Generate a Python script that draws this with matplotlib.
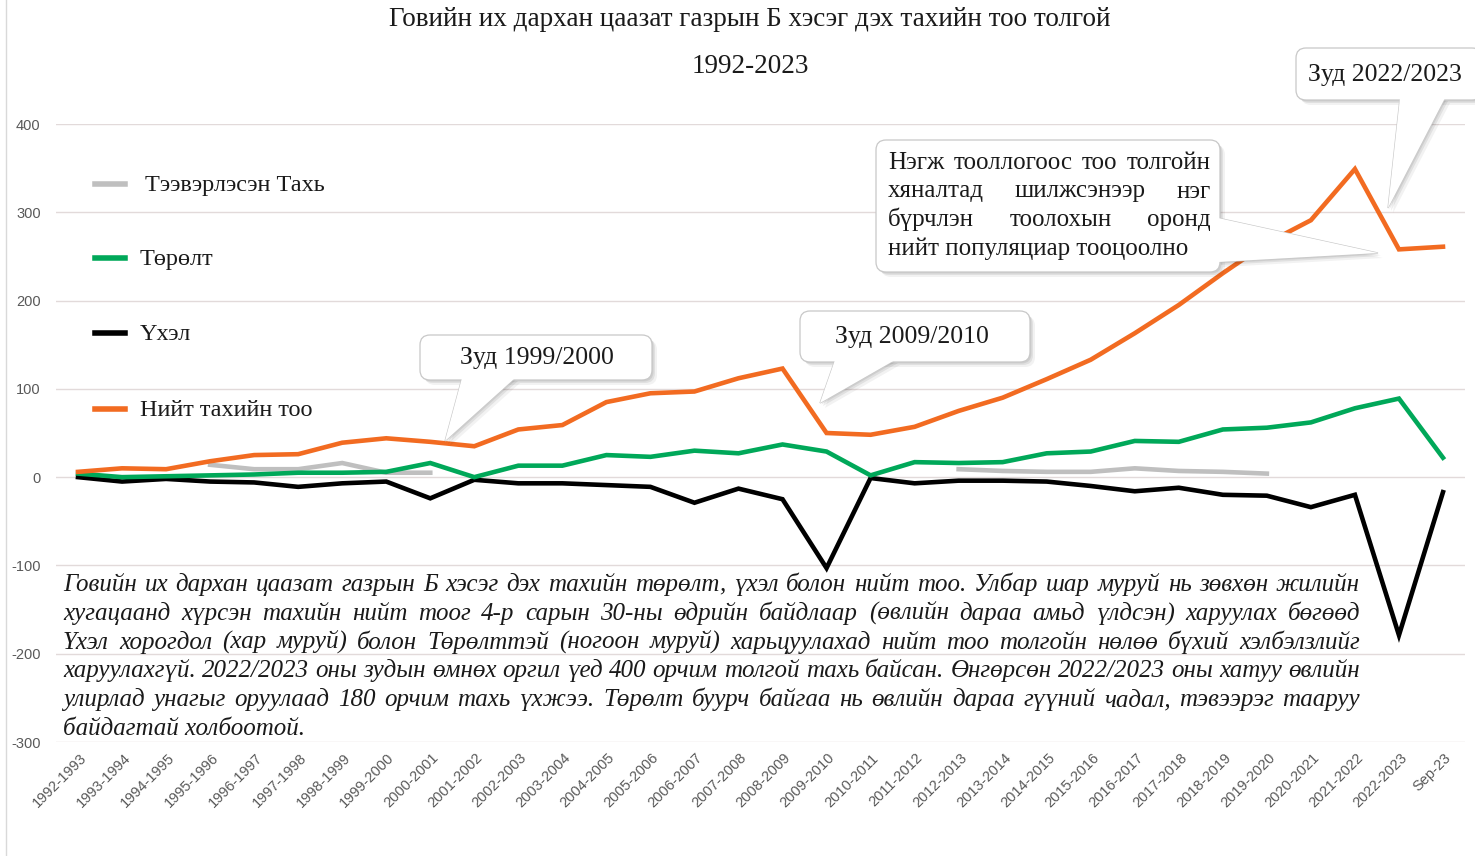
import numpy as np
import matplotlib
matplotlib.use("Agg")
import matplotlib.pyplot as plt
from matplotlib.patches import FancyBboxPatch, Polygon
from matplotlib.lines import Line2D
from matplotlib.transforms import IdentityTransform, ScaledTranslation

plt.rcParams['axes.unicode_minus'] = False

# ---------------- data ----------------
categories = ['1992-1993', '1993-1994', '1994-1995', '1995-1996', '1996-1997', '1997-1998',
              '1998-1999', '1999-2000', '2000-2001', '2001-2002', '2002-2003', '2003-2004',
              '2004-2005', '2005-2006', '2006-2007', '2007-2008', '2008-2009', '2009-2010',
              '2010-2011', '2011-2012', '2012-2013', '2013-2014', '2014-2015', '2015-2016',
              '2016-2017', '2017-2018', '2018-2019', '2019-2020', '2020-2021', '2021-2022',
              '2022-2023', 'Sep-23']
nan = np.nan
transported = [nan, nan, nan, 14, 9, 9, 16, 5, 5, nan, nan, nan, nan, nan, nan, nan, nan, nan,
               nan, nan, 9, 7, 6, 6, 10, 7, 6, 4, nan, nan, nan, nan]
births = [4, 0, 1, 2, 3, 5, 5, 6, 16, 0, 13, 13, 25, 23, 30, 27, 37, 29, 2, 17, 16, 17, 27, 29,
          41, 40, 54, 56, 62, 78, 89, 22]
deaths = [0, -5, -2, -5, -6, -11, -7, -5, -24, -3, -7, -7, -9, -11, -29, -13, -25, -103, -1, -7,
          -4, -4, -5, -10, -16, -12, -20, -21, -34, -20, -179, -17]
total = [6, 10, 9, 18, 25, 26, 39, 44, 40, 35, 54, 59, 85, 95, 97, 112, 123, 50, 48, 57, 75, 90,
         111, 133, 163, 195, 231, 265, 291, 349, 258, 261]

series_labels = ['Тээвэрлэсэн Тахь', 'Төрөлт', 'Үхэл', 'Нийт тахийн тоо']
series_colors = ['#BFBFBF', '#00A859', '#000000', '#F26B21']

title1 = 'Говийн их дархан цаазат газрын Б хэсэг дэх тахийн тоо толгой'
title2 = '1992-2023'
caption_lines = [
    'Говийн их дархан цаазат газрын Б хэсэг дэх тахийн төрөлт, үхэл болон нийт тоо. Улбар шар муруй нь зөвхөн жилийн',
    'хугацаанд хүрсэн тахийн нийт тоог 4-р сарын 30-ны өдрийн байдлаар (өвлийн дараа амьд үлдсэн) харуулах бөгөөд',
    'Үхэл хорогдол (хар муруй) болон Төрөлттэй (ногоон муруй) харьцуулахад нийт тоо толгойн нөлөө бүхий хэлбэлзлийг',
    'харуулахгүй. 2022/2023 оны зудын өмнөх оргил үед 400 орчим толгой тахь байсан. Өнгөрсөн 2022/2023 оны хатуу өвлийн',
    'улирлад унагыг оруулаад 180 орчим тахь үхжээ. Төрөлт буурч байгаа нь өвлийн дараа гүүний чадал, тэвээрэг тааруу',
    'байдагтай холбоотой.',
]
note_lines = ['Нэгж тооллогоос тоо толгойн', 'хяналтад шилжсэнээр нэг',
              'бүрчлэн тоолохын оронд', 'нийт популяциар тооцоолно']

# ---------------- figure ----------------
W, H = 1475, 856
fig = plt.figure(figsize=(W / 100, H / 100), dpi=100)
fig.patch.set_facecolor('white')
ax = fig.add_axes([56 / W, 1 - 742 / H, (1465 - 56) / W, (742 - 124) / H])

x = np.arange(len(categories))
data = [transported, births, deaths, total]
for vals, col, lab, z in zip(data, series_colors, series_labels, [2, 4, 3, 5]):
    ax.plot(x, vals, color=col, lw=3.3, label=lab, zorder=z, solid_joinstyle='miter')

ax.set_xlim(-0.5, len(categories) - 0.5)
ax.set_ylim(-300, 400)
ax.set_yticks(range(-300, 401, 100))
ax.grid(axis='y', color='#E2DADA', lw=1.0)
ax.set_axisbelow(True)
for s in ax.spines.values():
    s.set_visible(False)
ax.tick_params(length=0)
ax.tick_params(axis='y', pad=11, labelsize=10.5, labelcolor='#595959')
ax.set_xticks(x)
ax.set_xticklabels(categories, rotation=45, ha='right', rotation_mode='anchor',
                   fontsize=10.5, color='#595959', family='Liberation Sans')
for lbl in ax.get_yticklabels():
    lbl.set_family('Liberation Sans')
off = ScaledTranslation(1 / 100, -4 / 100, fig.dpi_scale_trans)
for lbl in ax.get_xticklabels():
    lbl.set_transform(lbl.get_transform() + off)

# left frame line
fig.add_artist(Line2D([6, 6], [0, H], color='#D9D9D9', lw=1, transform=IdentityTransform()))

ID = IdentityTransform()
SERIF = 'Liberation Serif'


def D(px, py):
    return (px, H - py)


def ftext(px, py, s, **kw):
    return fig.text(px, H - py, s, transform=ID, **kw)


# titles
ftext(750, 26, title1, ha='center', va='baseline', fontsize=19.5, family=SERIF, color='#1a1a1a')
ftext(750, 73, title2, ha='center', va='baseline', fontsize=19.5, family=SERIF, color='#1a1a1a')

# legend (custom positioned)
leg_y = [184, 258, 333, 409]
leg_tx = [145, 140, 140, 140]
for ly, tx, col, lab in zip(leg_y, leg_tx, series_colors, series_labels):
    fig.add_artist(Line2D([95, 125], [H - ly, H - ly], color=col, lw=4, transform=ID, zorder=6))
    ftext(tx, ly + 7, lab, ha='left', va='baseline', fontsize=17.5, family=SERIF, color='#1a1a1a', zorder=6)


def callout(box, wedge, z=6):
    x0, y0, x1, y1 = box
    wpts = [D(*p) for p in wedge]
    # soft shadow
    for k, a in [(5, 0.05), (3, 0.07), (1.5, 0.08)]:
        fig.add_artist(FancyBboxPatch((x0 + k, H - y1 - k), x1 - x0, y1 - y0,
                                      boxstyle='round,pad=0,rounding_size=10', fc='black',
                                      alpha=a, ec='none', transform=ID, zorder=z))
        fig.add_artist(Polygon([(p + k, q - k) for p, q in wpts], closed=True, fc='black',
                               alpha=a, ec='none', transform=ID, zorder=z))
    fig.add_artist(Polygon(wpts, closed=True, fc='white', ec='#C8C8C8', lw=0.9,
                           transform=ID, zorder=z + 0.1))
    fig.add_artist(FancyBboxPatch((x0, H - y1), x1 - x0, y1 - y0,
                                  boxstyle='round,pad=0,rounding_size=10', fc='white',
                                  ec='#C8C8C8', lw=0.9, transform=ID, zorder=z + 0.2))
    fig.add_artist(Polygon(wpts, closed=True, fc='white', ec='none',
                           transform=ID, zorder=z + 0.3))


callout((420, 335, 652, 380), [(462, 378), (515, 378), (445, 441)])
ftext(460, 364, 'Зуд 1999/2000', ha='left', va='baseline', fontsize=18.5, family=SERIF,
      color='#1a1a1a', zorder=7)
callout((800, 311, 1030, 362), [(835, 360), (895, 360), (820, 403)])
ftext(835, 343, 'Зуд 2009/2010', ha='left', va='baseline', fontsize=18.5, family=SERIF,
      color='#1a1a1a', zorder=7)
callout((1296, 48, 1482, 100), [(1400, 98), (1445, 98), (1388, 208)])
ftext(1308, 81, 'Зуд 2022/2023', ha='left', va='baseline', fontsize=18.5, family=SERIF,
      color='#1a1a1a', zorder=7)
callout((876, 140, 1220, 272), [(1218, 218), (1218, 262), (1378, 253)])

renderer = fig.canvas.get_renderer()


def justify(lines, x0, x1, base0, dy, last_left=True, **kw):
    for k, line in enumerate(lines):
        yb = base0 + k * dy
        if last_left and k == len(lines) - 1:
            ftext(x0, yb, line, ha='left', va='baseline', **kw)
            continue
        words = line.split()
        widths = []
        for w in words:
            t = ftext(0, 0, w, ha='left', va='baseline', **kw)
            widths.append(t.get_window_extent(renderer).width)
            t.remove()
        gap = (x1 - x0 - sum(widths)) / max(len(words) - 1, 1)
        xx = x0
        for w, wd in zip(words, widths):
            ftext(xx, yb, w, ha='left', va='baseline', **kw)
            xx += wd + gap


justify(note_lines, 888, 1211, 169, 28.5, fontsize=18, family=SERIF, color='#1a1a1a', zorder=7)
justify(caption_lines, 63, 1360, 591, 28.8, fontsize=18, family=SERIF, style='italic',
        color='#1a1a1a', zorder=7)

fig.savefig('out.png', dpi=100)
